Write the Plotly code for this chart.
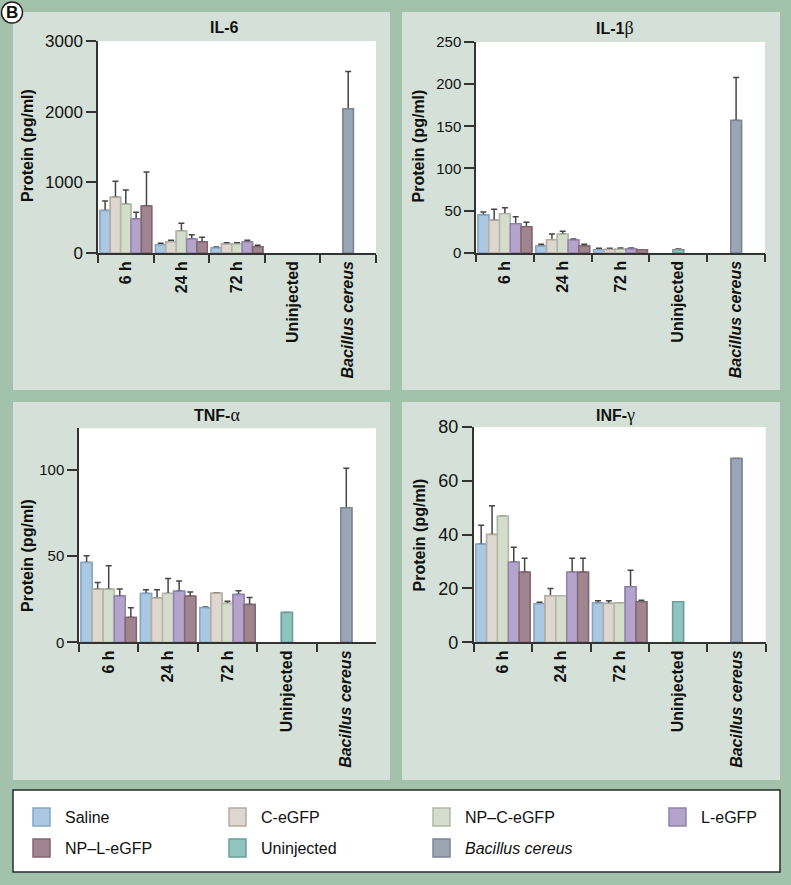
import plotly.graph_objects as go

W, H = 791, 885

# ---------------- data ----------------
categories = ["6 h", "24 h", "72 h", "Uninjected", "Bacillus cereus"]
time_points = ["6 h", "24 h", "72 h"]
groups = ["Saline", "C-eGFP", "NP–C-eGFP", "L-eGFP", "NP–L-eGFP"]
controls = ["Uninjected", "Bacillus cereus"]

# IL-6 (pg/ml); rows = groups, columns = time points
il6_means = [[600, 118, 71], [788, 160, 127], [689, 311, 127], [481, 198, 156], [665, 156, 90]]
il6_errs = [[135, 19, 14], [226, 19, 19], [202, 109, 19], [94, 61, 23], [480, 66, 19]]
il6_ctrl = [None, 2040]
il6_ctrl_err = [0, 530]

# IL-1beta
il1b_means = [[44.7, 7.9, 3.6], [38.4, 15.4, 3.9], [46.3, 21.8, 4.0], [34.4, 15.0, 4.3], [30.9, 7.9, 3.4]]
il1b_errs = [[3.6, 2.0, 1.6], [13.1, 6.8, 1.3], [7.1, 3.6, 1.5], [8.3, 1.3, 1.3], [5.1, 2.0, 0]]
il1b_ctrl = [3.6, 157]
il1b_ctrl_err = [0.9, 51]

# TNF-alpha
tnf_means = [[46.2, 28.3, 20.0], [30.8, 25.7, 28.4], [30.8, 28.3, 22.5], [26.9, 29.6, 27.7], [14.4, 26.7, 21.9]]
tnf_errs = [[4.0, 2.1, 0.5], [3.8, 4.7, 0.2], [13.6, 8.6, 1.3], [4.0, 5.9, 2.1], [5.6, 2.5, 4.1]]
tnf_ctrl = [17.3, 77.9]
tnf_ctrl_err = [0, 22.9]

# INF-gamma
inf_means = [[36.4, 14.3, 14.6], [40.1, 17.3, 14.4], [46.8, 17.3, 14.6], [29.7, 26.0, 20.6], [26.0, 26.0, 15.1]]
inf_errs = [[7.1, 0.6, 0.8], [10.6, 2.7, 1.0], [0, 0, 0], [5.6, 5.2, 6.2], [5.2, 5.2, 0.5]]
inf_ctrl = [15.1, 68.3]
inf_ctrl_err = [0, 0]

y_ticks = [[0, 1000, 2000, 3000], [0, 50, 100, 150, 200, 250], [0, 50, 100], [0, 20, 40, 60, 80]]
y_max = [3000, 250, 124, 80]
title_names = ["IL-6", "IL-1", "TNF-", "INF-"]
title_greek = ["", "β", "α", "γ"]

# ---------------- style ----------------
FONT = "Liberation Sans, Arial, sans-serif"
SERIF = "Liberation Serif, DejaVu Serif, serif"
group_fill = ["#abc8e2", "#ddd7cf", "#d4dccb", "#b4a4cb", "#a08591"]
group_edge = ["#88a5c0", "#b4aca4", "#afb9a7", "#9282ac", "#826671"]
ctrl_fill = ["#8fc4bf", "#9aa6b3"]
ctrl_edge = ["#6e9e99", "#7a8696"]
ERR_COLOR = "#454545"
AX_COLOR = "#333333"
BG_OUT = "#a3c2ab"
BG_PANEL = "#d5e1d8"

def px_x(v):
    return v / W

def px_y(v):
    return 1 - v / H

# plot area rectangles in pixels: (x0, x1, y_top, y_bottom)
plot_px = [(98, 376, 41, 253), (476, 765, 42, 252.7), (79, 376, 428.3, 642.3), (473.7, 765.7, 427, 642.3)]
panel_px = [(13, 390, 12, 390), (402, 780, 12, 390), (13, 390, 402, 780), (402, 780, 402, 780)]
title_px = [(224, 27.5), (615, 28), (216.5, 415), (615, 415)]
ytitle_px = [(27, 146), (417.5, 146), (27, 556), (418.5, 535)]
ytick_size = [17, 15, 15, 18]

panels = [
    (il6_means, il6_errs, il6_ctrl, il6_ctrl_err),
    (il1b_means, il1b_errs, il1b_ctrl, il1b_ctrl_err),
    (tnf_means, tnf_errs, tnf_ctrl, tnf_ctrl_err),
    (inf_means, inf_errs, inf_ctrl, inf_ctrl_err),
]

fig = go.Figure()
bw = 0.186
start = -bw * len(groups) / 2

for k, (means, errs, cm, ce) in enumerate(panels):
    xa = "x" if k == 0 else f"x{k + 1}"
    ya = "y" if k == 0 else f"y{k + 1}"
    bar_specs = []
    for gi, g in enumerate(groups):
        bar_specs.append((g, time_points, means[gi], errs[gi], start + gi * bw, group_fill[gi], group_edge[gi]))
    for ci, c in enumerate(controls):
        if cm[ci] is None:
            continue
        bar_specs.append((c, [c], [cm[ci]], [ce[ci]], -bw / 2, ctrl_fill[ci], ctrl_edge[ci]))
    # pass 1: bars with error bars
    for name, xs, ys, es, off, fc, ec in bar_specs:
        fig.add_trace(go.Bar(
            x=xs, y=ys, name=name, width=bw, offset=off, xaxis=xa, yaxis=ya,
            marker=dict(color=fc, line=dict(color=ec, width=1.5)),
            error_y=dict(type="data", array=es, arrayminus=[0] * len(es), symmetric=False,
                         color=ERR_COLOR, thickness=1.5, width=3),
            showlegend=False, hoverinfo="x+y+name"))
    # pass 2: same bars on top (hide the lower caps)
    for name, xs, ys, es, off, fc, ec in bar_specs:
        fig.add_trace(go.Bar(
            x=xs, y=ys, name=name, width=bw, offset=off, xaxis=xa, yaxis=ya,
            marker=dict(color=fc, line=dict(color=ec, width=1.5)),
            showlegend=False, hoverinfo="skip"))

layout = dict(
    width=W, height=H, margin=dict(l=0, r=0, t=0, b=0, pad=0, autoexpand=False),
    paper_bgcolor=BG_OUT, plot_bgcolor="white", barmode="overlay",
    font=dict(family=FONT, color="#111111", size=16), showlegend=False,
)

shapes = []
annotations = []
for k in range(4):
    x0, x1, yt, yb = plot_px[k]
    sfx = "" if k == 0 else str(k + 1)
    layout["xaxis" + sfx] = dict(
        domain=[px_x(x0), px_x(x1)], anchor="y" + sfx, type="category", automargin=False,
        categoryorder="array", categoryarray=categories, range=[-0.5, len(categories) - 0.5],
        tickmode="linear", tick0=0, dtick=1, tickson="boundaries",
        ticks="outside", ticklen=8, tickwidth=1.5, tickcolor=AX_COLOR,
        showline=True, linecolor=AX_COLOR, linewidth=1.5, showgrid=False, zeroline=False,
        tickangle=-90, tickfont=dict(family=FONT, size=16, color="#111111", weight="bold"),
        labelalias={"Bacillus cereus": "<i>Bacillus cereus</i>"}, fixedrange=True,
    )
    layout["yaxis" + sfx] = dict(
        domain=[px_y(yb), px_y(yt)], anchor="x" + sfx, range=[0, y_max[k]], automargin=False,
        tickmode="array", tickvals=y_ticks[k],
        ticks="outside", ticklen=10, tickwidth=1.5, tickcolor=AX_COLOR,
        showline=True, linecolor=AX_COLOR, linewidth=1.5, showgrid=False, zeroline=False,
        tickfont=dict(family=FONT, size=ytick_size[k], color="#111111"), fixedrange=True,
    )
    px0, px1, py0, py1 = panel_px[k]
    shapes.append(dict(type="rect", xref="paper", yref="paper", layer="below",
                       x0=px_x(px0), x1=px_x(px1), y0=px_y(py1), y1=px_y(py0),
                       fillcolor=BG_PANEL, line=dict(width=0)))
    tx, ty = title_px[k]
    greek = title_greek[k]
    ttext = "<b>%s</b>" % title_names[k]
    if greek:
        ttext += "<span style='font-family:%s;font-size:18px'>%s</span>" % (SERIF.split(",")[0], greek)
    annotations.append(dict(text=ttext, x=px_x(tx), y=px_y(ty), xref="paper", yref="paper",
                            showarrow=False, xanchor="center", yanchor="middle",
                            font=dict(family=FONT, size=16, color="#111111")))
    ax_, ay_ = ytitle_px[k]
    annotations.append(dict(text="<b>Protein (pg/ml)</b>", x=px_x(ax_), y=px_y(ay_), xref="paper", yref="paper",
                            showarrow=False, xanchor="center", yanchor="middle", textangle=-90,
                            font=dict(family=FONT, size=16, color="#111111")))

# white plot areas (drawn above the panel backgrounds, below the bars)
for k in range(4):
    sfx = "" if k == 0 else str(k + 1)
    shapes.append(dict(type="rect", xref="x%s domain" % sfx, yref="y%s domain" % sfx, layer="below",
                       x0=0, x1=1, y0=0, y1=1, fillcolor="white", line=dict(width=0)))

# legend box
shapes.append(dict(type="rect", xref="paper", yref="paper", layer="above",
                   x0=px_x(13), x1=px_x(780), y0=px_y(872), y1=px_y(790),
                   fillcolor="white", line=dict(color="#2b2b2b", width=1.5)))
legend_names = groups[:4] + [groups[4]] + controls
legend_fill = group_fill + ctrl_fill
legend_edge = group_edge + ctrl_edge
legend_slots = [(33, 817), (229, 817), (433, 817), (669, 817), (33, 848), (229, 848), (433, 848)]
for name, fc, ec, (sx, sy) in zip(legend_names, legend_fill, legend_edge, legend_slots):
    shapes.append(dict(type="rect", xref="paper", yref="paper", layer="above",
                       x0=px_x(sx), x1=px_x(sx + 17), y0=px_y(sy + 9), y1=px_y(sy - 9),
                       fillcolor=fc, line=dict(color=ec, width=1.5)))
    label = "<i>%s</i>" % name if name == "Bacillus cereus" else name
    annotations.append(dict(text=label, x=px_x(sx + 30), y=px_y(sy), xref="paper", yref="paper",
                            showarrow=False, xanchor="left", yanchor="middle",
                            font=dict(family=FONT, size=16, color="#111111")))

# panel letter
shapes.append(dict(type="circle", xref="paper", yref="paper", layer="above",
                   x0=px_x(1.5), x1=px_x(22.5), y0=px_y(23), y1=px_y(2),
                   fillcolor="white", line=dict(color="#222222", width=1.5)))
annotations.append(dict(text="<b>B</b>", x=px_x(12), y=px_y(12.5), xref="paper", yref="paper",
                        showarrow=False, xanchor="center", yanchor="middle",
                        font=dict(family=FONT, size=17, color="#111111")))

layout["shapes"] = shapes
layout["annotations"] = annotations
fig.update_layout(**layout)
fig.write_html("out.html", config={"displayModeBar": False},
               post_script="document.body.style.margin='0';document.body.style.padding='0';"
                           "document.body.style.overflow='hidden';")
